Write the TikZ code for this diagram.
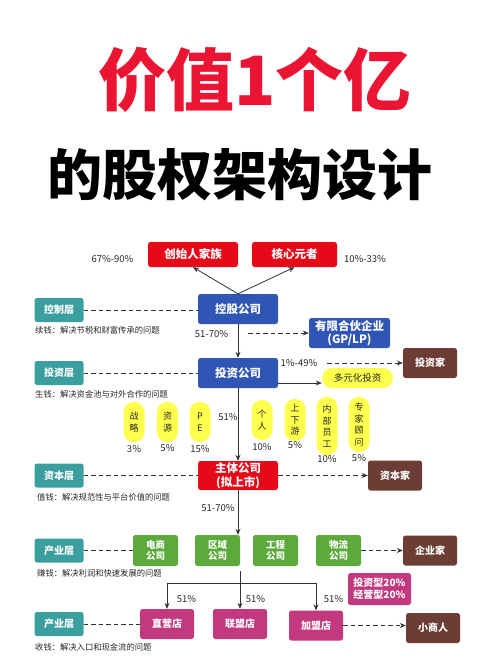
\documentclass[tikz,border=0pt]{standalone}
\usepackage{fontspec}
\setmainfont{Noto Sans CJK SC}
\usetikzlibrary{arrows.meta, positioning}
\definecolor{titlered}{RGB}{235,20,50}
\definecolor{boxred}{RGB}{230,10,25}
\definecolor{boxblue}{RGB}{47,85,181}
\definecolor{layerteal}{RGB}{59,159,159}
\definecolor{boxbrown}{RGB}{107,61,52}
\definecolor{boxgreen}{RGB}{92,170,60}
\definecolor{boxpink}{RGB}{194,57,126}
\definecolor{capyellow}{RGB}{255,255,77}
\definecolor{linegray}{RGB}{50,50,50}

\begin{document}
\begin{tikzpicture}[x=1pt, y=-1pt,
    box/.style={rectangle, rounded corners=2.5pt, text=white, align=center, inner sep=0pt, font=\bfseries\fontsize{11.5}{13.5}\selectfont},
    redbox/.style={box, fill=boxred, minimum width=85, minimum height=25},
    bluebox/.style={box, fill=boxblue, minimum width=80, minimum height=30},
    layerbox/.style={box, fill=layerteal, minimum width=49, minimum height=24, font=\bfseries\fontsize{10}{12}\selectfont},
    brownbox/.style={box, fill=boxbrown, minimum width=54, minimum height=30, font=\bfseries\fontsize{10}{12}\selectfont},
    greenbox/.style={box, fill=boxgreen, minimum width=45, minimum height=31, font=\bfseries\fontsize{9.5}{11.5}\selectfont},
    pinkbox/.style={box, fill=boxpink, minimum width=54, minimum height=30, font=\bfseries\fontsize{10}{12}\selectfont},
    capsule/.style={rectangle, rounded corners=10pt, fill=capyellow, minimum width=21, align=center, inner sep=0pt, text=black!85, font=\fontsize{9}{11.5}\selectfont},
    pct/.style={text=black!85, inner sep=1pt, font=\fontsize{9.5}{11}\selectfont},
    desc/.style={anchor=west, text=black!85, inner sep=0pt, font=\fontsize{8.3}{10}\selectfont},
    arr/.style={draw=linegray, line width=0.8pt, -{Stealth[length=6pt, width=5pt]}},
    dline/.style={draw=linegray, line width=0.8pt, dash pattern=on 4.5pt off 3pt},
    darr/.style={dline, -{Stealth[length=6pt, width=5pt]}}]
  \useasboundingbox (0,0) rectangle (500,659);%page size
  % title
  \node (title1) at (255,80) [text=titlered, font=\bfseries\fontsize{68}{80}\selectfont]{价值1个亿};%red title
  \node (title2) at (240,175) [text=black, font=\bfseries\fontsize{55}{66}\selectfont]{的股权架构设计};%black title
  % control layer
  \node (found) at (193,254.5) [redbox, minimum width=90]{创始人家族};%founder family
  \node (core) at (294.5,254.5) [redbox]{核心元者};%core members
  \node (pfound) at (112.5,259) [pct]{67\%-90\%};
  \node (pcore) at (365,259) [pct]{10\%-33\%};
  \node (hold) at (238,309) [bluebox]{控股公司};%holding company
  \node (ctrl) at (59,310) [layerbox]{控制层};
  \node (dctrl) at (35,330) [desc]{续钱：解决节税和财富传承的问题};
  \draw[arr] (hold.north) -- (found.south);
  \draw[arr] (hold.north) -- (core.south);
  \draw[dline] (ctrl.east) -- (ctrl.east -| hold.west);
  \node (phold) at (211.5,334) [pct]{51-70\%};
  \node (lp) at (349.5,333) [bluebox, minimum width=81]{有限合伙企业\\(GP/LP)};%partnership
  \coordinate (lpstart) at (248,333);
  \draw[darr] (lpstart) -- (lp.west);
  % investment layer
  \node (inv) at (238,373) [bluebox]{投资公司};%investment company
  \node (invl) at (59,373) [layerbox]{投资层};
  \node (dinv) at (35,394) [desc]{生钱：解决资金池与对外合作的问题};
  \draw[arr] (hold.south) -- (inv.north);
  \draw[dline] (invl.east) -- (inv.west);
  \node (pinv) at (299,363) [pct]{1\%-49\%};
  \node (investor) at (430,363) [brownbox]{投资家};
  \coordinate (invstart) at (327,363);
  \draw[darr] (invstart) -- (investor.west);
  \node (multi) at (357.5,378) [capsule, minimum width=71, minimum height=20, font=\fontsize{9.5}{11}\selectfont]{多元化投资};
  \coordinate (invr) at ([yshift=-10pt]inv.east);
  \draw[arr] (invr) -- (invr -| multi.west);
  % shareholders of the listed company
  \node (strat) at (134,422) [capsule, minimum height=40]{战\\略};
  \node (res) at (167.5,422) [capsule, minimum height=40]{资\\源};
  \node (pe) at (200,422) [capsule, minimum height=40]{P\\E};
  \node (pers) at (262,420) [capsule, minimum height=40]{个\\人};
  \node (chain) at (295,420) [capsule, minimum height=42]{上\\下\\游};
  \node (staff) at (327,426) [capsule, minimum height=58]{内\\部\\员\\工};
  \node (expert) at (359,424.5) [capsule, minimum height=55]{专\\家\\顾\\问};
  \node (pstrat) at (134,449) [pct]{3\%};
  \node (pres) at (167.5,448) [pct]{5\%};
  \node (ppe) at (200,449) [pct]{15\%};
  \node (ppers) at (262,447) [pct]{10\%};
  \node (pchain) at (295,445) [pct]{5\%};
  \node (pstaff) at (327,459) [pct]{10\%};
  \node (pexpert) at (359,458) [pct]{5\%};
  \node (pmain) at (228,417) [pct]{51\%};
  % capital layer
  \node (main) at (238,475.5) [redbox, minimum width=80, minimum height=29]{主体公司\\(拟上市)};%main company
  \node (capl) at (59,475.5) [layerbox]{资本层};
  \node (dcap) at (37,497) [desc]{值钱：解决规范性与平台价值的问题};
  \draw[arr] (inv.south) -- (main.north);
  \draw[dline] (capl.east) -- (main.west);
  \node (capitalist) at (395,475.5) [brownbox]{资本家};
  \draw[darr] (main.east) -- (capitalist.west);
  \node (pind) at (218,508) [pct]{51-70\%};
  % industry layer
  \node (ds) at (155.5,550.5) [greenbox]{电商\\公司};
  \node (qy) at (217.5,550.5) [greenbox]{区域\\公司};
  \node (gc) at (275.5,550.5) [greenbox]{工程\\公司};
  \node (wl) at (338.5,550.5) [greenbox]{物流\\公司};
  \node (indl) at (59,550.5) [layerbox]{产业层};
  \node (dind) at (37,573) [desc]{赚钱：解决利润和快速发展的问题};
  \draw[arr] (main.south) -- (main.south |- qy.north);
  \draw[dline] (indl.east) -- (ds.west);
  \node (entre) at (430,550.5) [brownbox]{企业家};
  \draw[darr] (wl.east) -- (entre.west);
  % store layer
  \node (direct) at (167,624) [pinkbox]{直营店};
  \node (league) at (240,624) [pinkbox]{联盟店};
  \node (franch) at (316,625.5) [pinkbox]{加盟店};
  \node (share) at (379.5,589) [pinkbox, minimum width=63, minimum height=32]{投资型20\%\\经营型20\%};
  \node (indl2) at (59,624) [layerbox]{产业层};
  \node (dstore) at (35,647) [desc]{收钱：解决入口和现金流的问题};
  \coordinate (split) at (240,571);
  \coordinate (bar) at (240,583);
  \draw[arr] (split) -- (league.north);
  \draw[arr] (bar) -| (direct.north);
  \draw[arr] (bar) -| (franch.north);
  \node (pdirect) at (186.5,599) [pct]{51\%};
  \node (pleague) at (255.5,599) [pct]{51\%};
  \node (pfranch) at (333.5,599) [pct]{51\%};
  \draw[dline] (indl2.east) -- (direct.west);
  \node (merchant) at (433,628) [brownbox]{小商人};
  \draw[darr] (franch.east) -- (franch.east -| merchant.west);
\end{tikzpicture}
\end{document}
